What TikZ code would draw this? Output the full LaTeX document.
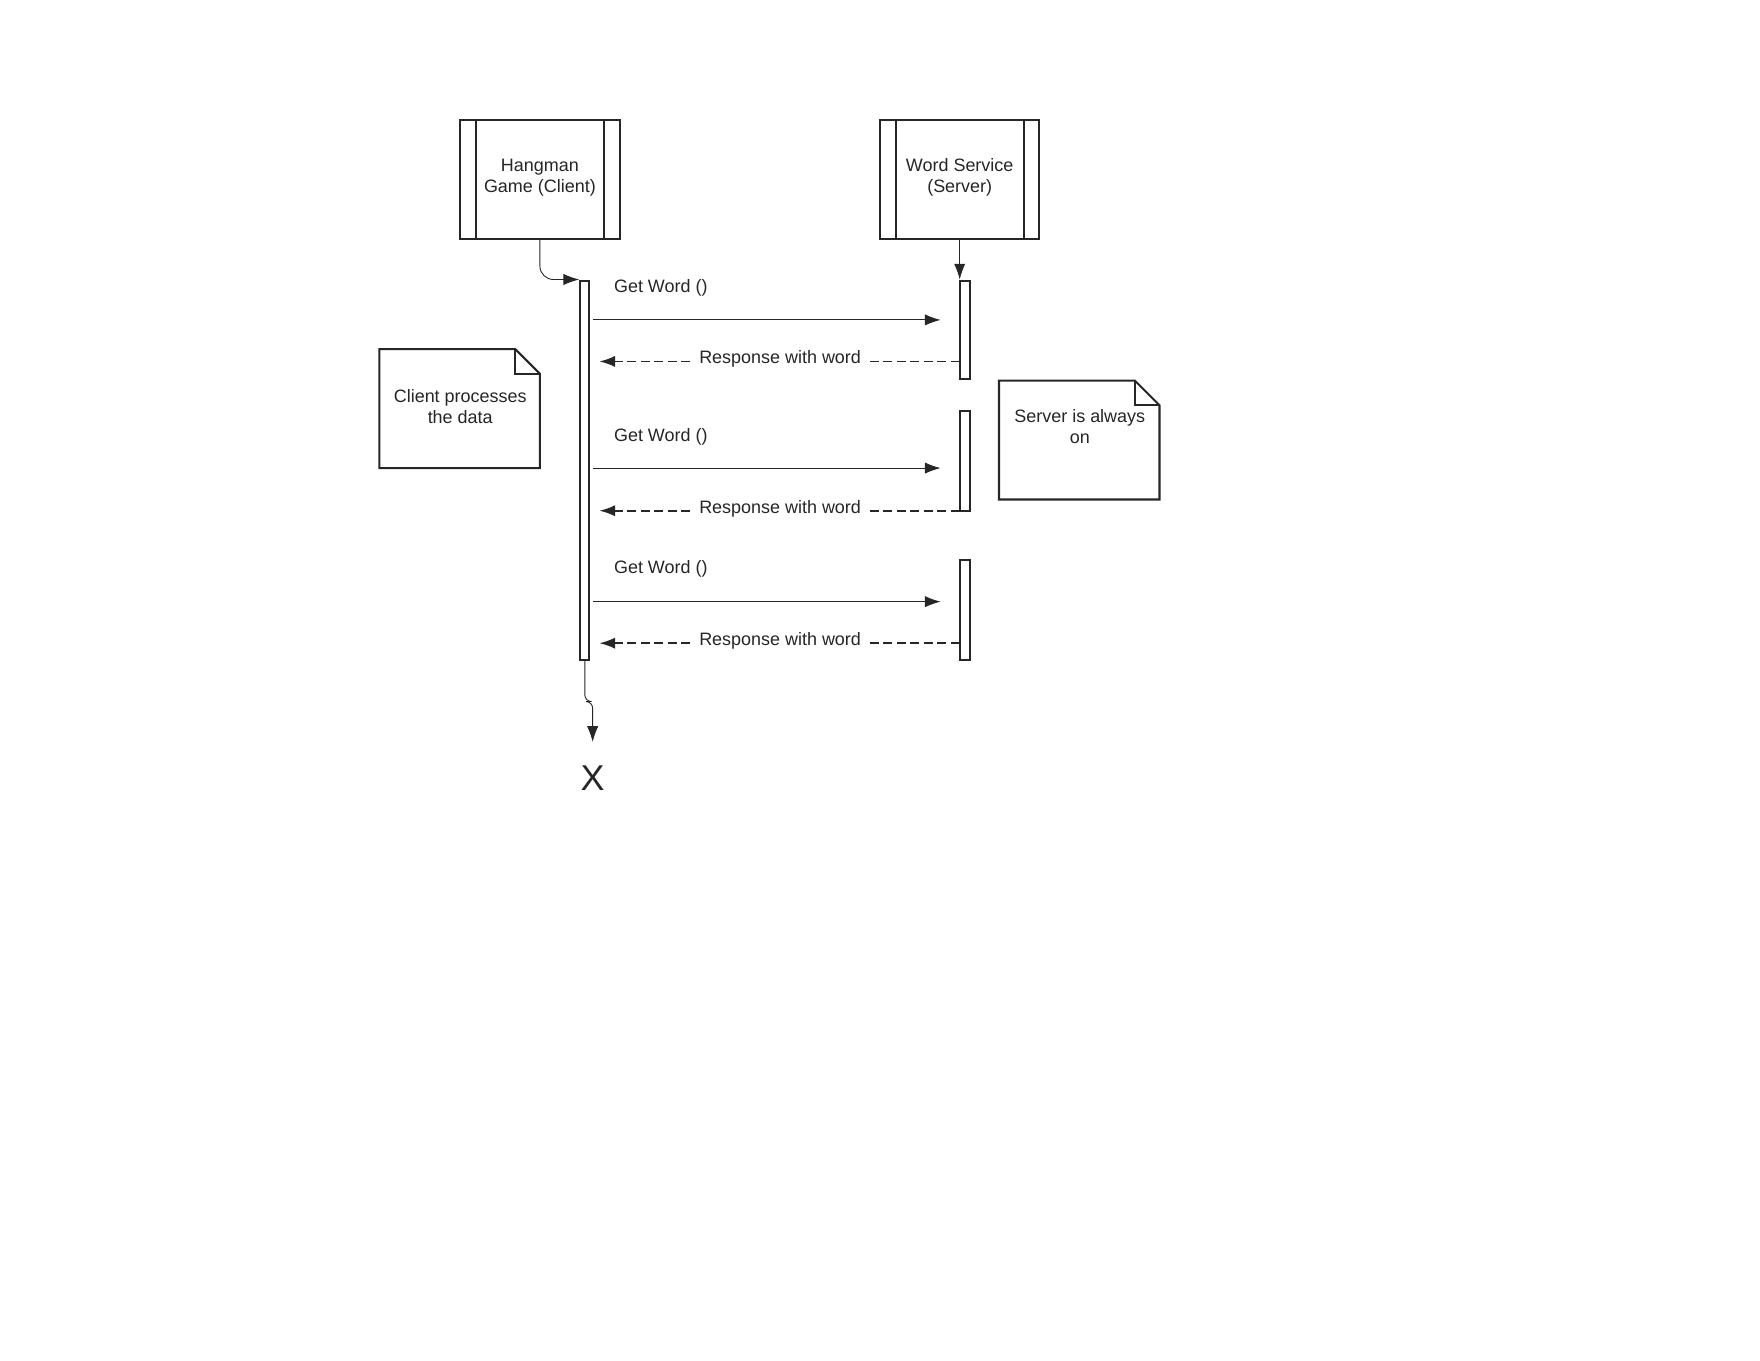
\documentclass[tikz,border=0pt]{standalone}
\usepackage{fontspec}
\setmainfont{Liberation Sans}
\usetikzlibrary{arrows.meta}
\begin{document}
\begin{tikzpicture}[x=0.5pt,y=-0.5pt,
  box/.style={draw=black!85,line width=0.9pt},
  lbl/.style={font=\fontsize{8}{9.5}\selectfont,text=black!85,align=center},
  msg/.style={draw=black!85,line width=0.4pt,-{Latex[length=7pt,width=5pt]}},
  resp/.style={draw=black!85,line width=0.8pt,dash pattern=on 4pt off 2pt,-{Latex[length=7pt,width=5pt]}}]
\useasboundingbox (0,0) rectangle (1568,1212);
% lifeline heads
\draw[box] (410,107) rectangle (552,213); \draw[box] (424,107)--(424,213) (538,107)--(538,213);
\node[lbl] (cl) at (481,158) {Hangman\\Game (Client)};
\draw[box] (784,107) rectangle (926,213); \draw[box] (798,107)--(798,213) (912,107)--(912,213);
\node[lbl] (sv) at (855,158) {Word Service\\(Server)};
\coordinate (clb) at (481,213); \coordinate (svb) at (855,213);
% activations
\draw[box] (517,250) rectangle (525,588);
\draw[box] (855,250) rectangle (864,338);
\draw[box] (855,366) rectangle (864,455);
\draw[box] (855,499) rectangle (864,588);
\coordinate (ca) at (516,249); \coordinate (sa) at (855,249);
\draw[msg,rounded corners=6pt] (clb) |- (ca);
\draw[msg] (svb) -- (sa);
% messages
\foreach \g/\r/\gl in {285/322/256, 417/455/389, 536/573/507}{
  \coordinate (g1) at (528,\g); \coordinate (g2) at (838,\g);
  \draw[msg] (g1) -- (g2);
  \node[lbl,anchor=west] at (540,\gl) {Get Word ()};
  \coordinate (r1) at (855,\r); \coordinate (r2) at (534,\r);
  \draw[resp] (r1) -- (r2);
  \node[lbl,fill=white,inner sep=2pt] at (695,\r-2) {Response with word};
}
% end
\coordinate (e1) at (521,588); \coordinate (e2) at (528,661);
\draw[msg,rounded corners=3pt] (e1) -- (521,625) -- (528,625) -- (e2);
\node[font=\fontsize{16}{16}\selectfont,text=black!85] (x) at (528,693) {X};
% notes
\draw[box] (338,311) -- (459,311) -- (481,333) -- (481,417) -- (338,417) -- cycle;
\draw[box] (459,311) -- (459,333) -- (481,333);
\node[lbl] (n1) at (410,362) {Client processes\\the data};
\draw[box] (890,339) -- (1011,339) -- (1033,361) -- (1033,445) -- (890,445) -- cycle;
\draw[box] (1011,339) -- (1011,361) -- (1033,361);
\node[lbl] (n2) at (962,380) {Server is always\\on};
\end{tikzpicture}
\end{document}
